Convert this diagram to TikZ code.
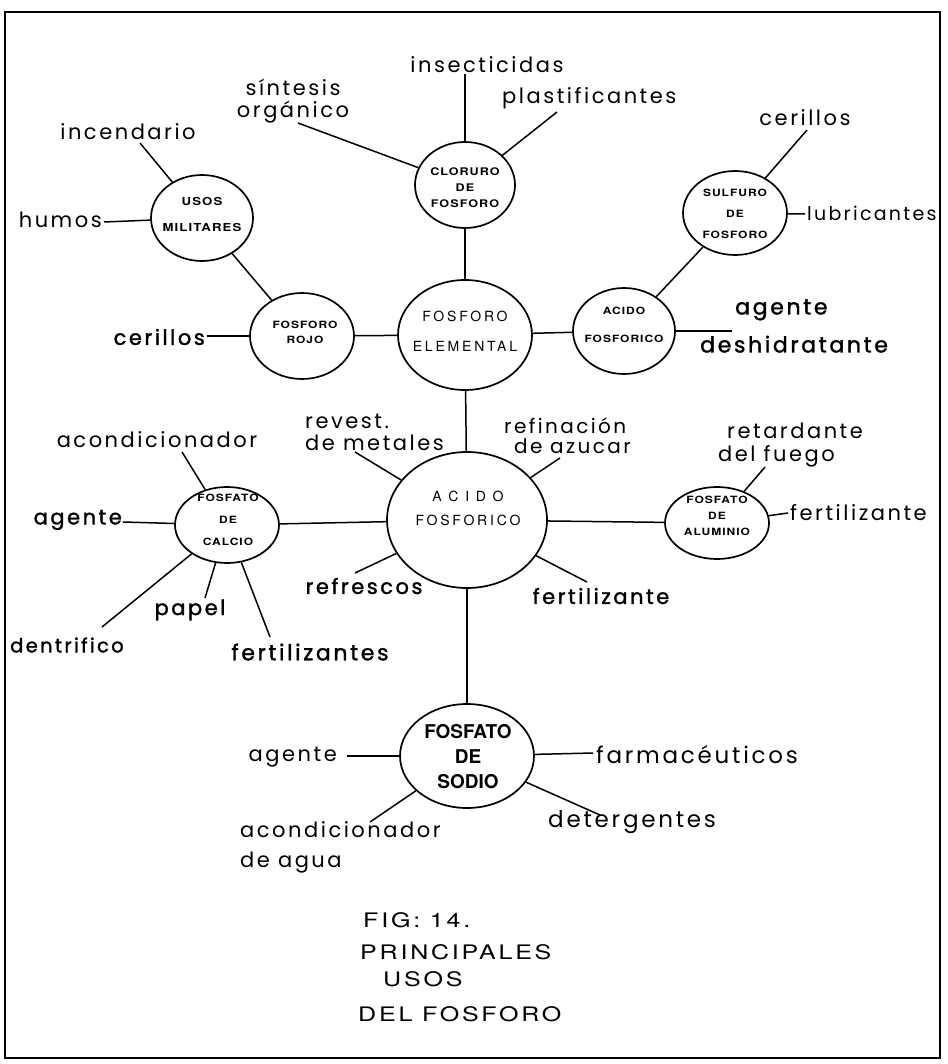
\documentclass[tikz,border=0pt]{standalone}
\usepackage{fontspec}
\usetikzlibrary{shapes.geometric}
% lettering for the uses, the ring captions and the figure title
\newfontfamily\handfont{Poppins}[LetterSpace=12]
\newfontfamily\handboldfont{Poppins}[LetterSpace=12,FakeBold=1.5]
\newfontfamily\capsfont{TeX Gyre Heros}[FakeStretch=1.2,LetterSpace=10]
\newfontfamily\ringfont{TeX Gyre Heros}[LetterSpace=20]
\newfontfamily\plainsans{TeX Gyre Heros}
\newfontfamily\titlefont{TeX Gyre Heros}[FakeStretch=1.25,LetterSpace=14]

\begin{document}
\begin{tikzpicture}[x=1pt,y=-1pt,
  ring/.style={ellipse,draw,line width=1.7pt,inner sep=0pt},
  conn/.style={line width=1.5pt},
  lab/.style={font=\handfont\fontsize{21}{22}\selectfont,inner sep=0pt},
  labb/.style={font=\handboldfont\fontsize{21}{22}\selectfont,inner sep=0pt},
  smallcap/.style={font=\capsfont\bfseries\fontsize{10.5}{16}\selectfont,align=center,inner sep=0pt},
  bigcap/.style={font=\ringfont\fontsize{14}{30}\selectfont,align=center,inner sep=0pt},
  title/.style={font=\titlefont\fontsize{20}{24}\selectfont,anchor=west,inner sep=0pt}
]
\path[use as bounding box] (0,0) rectangle (947,1064);
\fill[white] (0,0) rectangle (947,1064);
\draw[line width=1.8pt] (5,12) rectangle (940,1058);

% ---- compounds ----
\node[ring,minimum width=100pt,minimum height=86pt] (clo) at (465,185) {};
\node[smallcap] (clo-t) at (465,188) {CLORURO\\DE\\FOSFORO};
\node[ring,minimum width=102pt,minimum height=86pt] (usos) at (202,218) {};
\node[smallcap,font=\capsfont\bfseries\fontsize{11}{26}\selectfont] (usos-t) at (202,214) {USOS\\MILITARES};
\node[ring,minimum width=104pt,minimum height=84pt] (sul) at (735,213) {};
\node[smallcap,font=\capsfont\bfseries\fontsize{10}{21}\selectfont] (sul-t) at (735,214) {SULFURO\\DE\\FOSFORO};
\node[ring,minimum width=104pt,minimum height=86pt] (rojo) at (302,336) {};
\node[smallcap,font=\capsfont\bfseries\fontsize{10}{15}\selectfont] (rojo-t) at (305,332) {FOSFORO\\ROJO};
\node[ring,minimum width=134pt,minimum height=110pt] (elem) at (465,335) {};
\node[bigcap] (elem-t) at (465,331) {FOSFORO\\ELEMENTAL};
\node[ring,minimum width=102pt,minimum height=86pt] (acp) at (624,331) {};
\node[smallcap,font=\capsfont\bfseries\fontsize{10}{28}\selectfont] (acp-t) at (624,325) {ACIDO\\FOSFORICO};
\node[ring,minimum width=160pt,minimum height=136pt] (acido) at (467,520) {};
\node[bigcap,font=\ringfont\fontsize{14}{24}\selectfont] (acido-t) at (468,508) {A C I D O\\FOSFORICO};
\node[ring,minimum width=104pt,minimum height=76pt] (cal) at (227,525) {};
\node[smallcap,font=\capsfont\bfseries\fontsize{10}{22}\selectfont] (cal-t) at (228,520) {FOSFATO\\DE\\CALCIO};
\node[ring,minimum width=104pt,minimum height=72pt] (alu) at (717,523) {};
\node[smallcap,font=\capsfont\bfseries\fontsize{10}{16}\selectfont] (alu-t) at (717,516) {FOSFATO\\DE\\ALUMINIO};
\node[ring,minimum width=134pt,minimum height=104pt] (sodio) at (467,756) {};
\node[font=\plainsans\bfseries\fontsize{19}{25}\selectfont,align=center,inner sep=0pt] (sodio-t) at (468,757) {FOSFATO\\DE\\SODIO};

% ---- uses ----
\node[lab] (insect) at (487,65) {insecticidas};
\node[lab,align=center] (sintesis) at (293,101) {síntesis\\orgánico};
\node[lab,anchor=west] (plast) at (502,98) {plastificantes};
\node[lab] (incend) at (128,132) {incendario};
\node[lab,anchor=east] (humos) at (102,220) {humos};
\node[lab] (ceri1) at (805,118) {cerillos};
\node[lab,anchor=west,font=\handfont\fontsize{19}{22}\selectfont] (lubri) at (807,213) {lubricantes};
\node[labb,anchor=east] (ceri2) at (205,337) {cerillos};
\node[labb,anchor=west,align=left,font=\handboldfont\fontsize{22}{38}\selectfont] (deshi) at (700,326) {\hspace*{35pt}agente\\deshidratante};
\node[lab,anchor=west,align=left] (revest) at (305,432) {revest.\\de metales};
\node[lab,anchor=west,align=left,font=\handfont\fontsize{20}{20}\selectfont] (refin) at (504,436) {refinación\\\hspace*{10pt}de azucar};
\node[lab] (acond1) at (157,440) {acondicionador};
\node[labb,anchor=east] (agente1) at (122,520) {agente};
\node[lab,anchor=west,align=left,font=\handfont\fontsize{21}{23}\selectfont] (retard) at (718,445) {\hspace*{9pt}retardante\\del fuego};
\node[lab,anchor=west] (fert1) at (790,513) {fertilizante};
\node[labb] (refres) at (364,586) {refrescos};
\node[labb] (fert2) at (601,596) {fertilizante};
\node[labb] (papel) at (190,610) {papel};
\node[labb,anchor=west,font=\handboldfont\fontsize{19.5}{22}\selectfont] (dentri) at (10,645) {dentrifico};
\node[labb,font=\handboldfont\fontsize{22}{22}\selectfont] (fert3) at (310,652) {fertilizantes};
\node[lab,anchor=east] (agente2) at (337,757) {agente};
\node[lab,anchor=west,font=\handfont\fontsize{23}{22}\selectfont] (farma) at (596,755) {farmacéuticos};
\node[lab,anchor=west,font=\handfont\fontsize{23}{22}\selectfont] (deter) at (548,822) {detergentes};
\node[lab,anchor=west,align=left,font=\handfont\fontsize{21}{30}\selectfont] (acond2) at (240,847) {acondicionador\\de agua};

% ---- free ends of the connectors ----
\coordinate (e-insect) at (465,74);
\coordinate (e-sint) at (298,123);
\coordinate (e-plast) at (557,112);
\coordinate (e-incend) at (140,143);
\coordinate (e-humos) at (104,222);
\coordinate (e-ceri1) at (807,130);
\coordinate (e-lubri) at (805,214);
\coordinate (e-ceri2) at (207,336);
\coordinate (e-deshi) at (732,331);
\coordinate (e-revest) at (355,452);
\coordinate (e-refin) at (560,458);
\coordinate (e-acond1) at (182,452);
\coordinate (e-agente1) at (123,522);
\coordinate (e-dentri) at (102,627);
\coordinate (e-papel) at (205,598);
\coordinate (e-fert3) at (270,637);
\coordinate (e-retard) at (765,467);
\coordinate (e-fert1) at (788,513);
\coordinate (e-refres) at (355,573);
\coordinate (e-fert2) at (587,582);
\coordinate (e-agente2) at (347,756);
\coordinate (e-farma) at (593,753);
\coordinate (e-deter) at (600,815);
\coordinate (e-acond2) at (370,822);

% ---- links between compounds ----
\draw[conn] (clo) -- (elem);
\draw[conn] (usos) -- (rojo);
\draw[conn] (rojo) -- (elem);
\draw[conn] (elem) -- (acp);
\draw[conn] (acp) -- (sul);
\draw[conn] (elem) -- (acido);
\draw[conn] (acido) -- (cal);
\draw[conn] (acido) -- (alu);
\draw[conn] (acido) -- (sodio);

% ---- links to the uses ----
\draw[conn] (clo) -- (e-insect);
\draw[conn] (clo) -- (e-sint);
\draw[conn] (clo) -- (e-plast);
\draw[conn] (usos) -- (e-incend);
\draw[conn] (usos) -- (e-humos);
\draw[conn] (sul) -- (e-ceri1);
\draw[conn] (sul) -- (e-lubri);
\draw[conn] (rojo) -- (e-ceri2);
\draw[conn] (acp) -- (e-deshi);
\draw[conn] (acido) -- (e-revest);
\draw[conn] (acido) -- (e-refin);
\draw[conn] (acido) -- (e-refres);
\draw[conn] (acido) -- (e-fert2);
\draw[conn] (cal) -- (e-acond1);
\draw[conn] (cal) -- (e-agente1);
\draw[conn] (cal) -- (e-dentri);
\draw[conn] (cal) -- (e-papel);
\draw[conn] (cal) -- (e-fert3);
\draw[conn] (alu) -- (e-retard);
\draw[conn] (alu) -- (e-fert1);
\draw[conn] (sodio) -- (e-agente2);
\draw[conn] (sodio) -- (e-farma);
\draw[conn] (sodio) -- (e-deter);
\draw[conn] (sodio) -- (e-acond2);

% ---- caption ----
\node[title] (fig) at (363,920) {FIG: 14.};
\node[title] (princ) at (360,952) {PRINCIPALES};
\node[title] (usos2) at (383,979) {USOS};
\node[title] (delf) at (358,1014) {DEL FOSFORO};
\end{tikzpicture}
\end{document}
